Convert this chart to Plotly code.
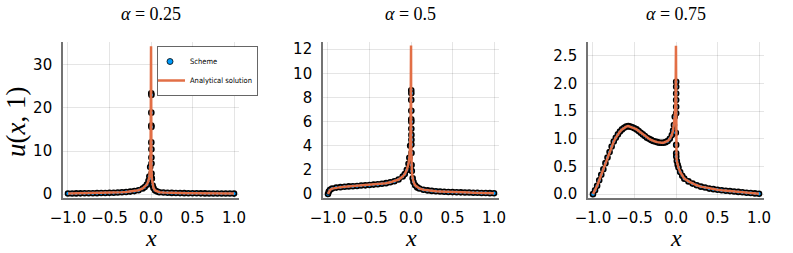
import plotly.graph_objects as go

# ---------------- data ----------------
alpha_labels = ["0.25", "0.5", "0.75"]

# alpha = 0.25
x_exact_1 = [-1.0, -0.95, -0.9, -0.85, -0.8, -0.75, -0.7, -0.65, -0.6, -0.55, -0.5,
             -0.45, -0.4, -0.35, -0.3, -0.25, -0.2, -0.15, -0.1, -0.075, -0.05, -0.03,
             -0.02, -0.01, -0.005, -0.002, -0.0005,
             0.0005, 0.002, 0.005, 0.01, 0.02, 0.03, 0.05, 0.075, 0.1, 0.15, 0.2, 0.25,
             0.3, 0.35, 0.4, 0.45, 0.5, 0.55, 0.6, 0.65, 0.7, 0.75, 0.8, 0.85, 0.9, 0.95, 1.0]
u_exact_1 = [0.15, 0.16, 0.17, 0.18, 0.19, 0.2, 0.21, 0.23, 0.25, 0.27, 0.3,
             0.33, 0.37, 0.42, 0.49, 0.58, 0.7, 0.9, 1.3, 1.65, 2.2, 3.1,
             4.1, 6.3, 10.0, 20.0, 34.3,
             34.3, 14.0, 6.0, 3.6, 2.0, 1.4, 0.85, 0.6, 0.45, 0.36, 0.31, 0.28,
             0.26, 0.24, 0.22, 0.21, 0.2, 0.19, 0.18, 0.17, 0.16, 0.15, 0.14, 0.14, 0.13, 0.13, 0.12]
x_spike_1 = [0.003, 0.005, 0.004, 0.004, 0.005, 0.004, 0.005, 0.005, 0.006, 0.006, 0.007]
u_spike_1 = [23.4, 23.0, 18.9, 15.9, 15.6, 12.0, 10.4, 8.5, 7.1, 4.8, 3.6]

# alpha = 0.5
x_exact_2 = [-1.0, -0.99, -0.975, -0.95, -0.9, -0.85, -0.8, -0.75, -0.7, -0.65, -0.6, -0.55,
             -0.5, -0.45, -0.4, -0.35, -0.3, -0.25, -0.2, -0.15, -0.1, -0.075, -0.05, -0.03,
             -0.02, -0.01, -0.005, -0.002, -0.0005,
             0.0005, 0.002, 0.005, 0.01, 0.02, 0.03, 0.05, 0.075, 0.1, 0.15, 0.2, 0.25,
             0.3, 0.35, 0.4, 0.45, 0.5, 0.55, 0.6, 0.65, 0.7, 0.75, 0.8, 0.85, 0.9, 0.95, 1.0]
u_exact_2 = [0.0, 0.2, 0.35, 0.45, 0.53, 0.57, 0.6, 0.63, 0.65, 0.67, 0.7, 0.72,
             0.75, 0.78, 0.81, 0.85, 0.9, 0.97, 1.06, 1.2, 1.45, 1.65, 2.0, 2.5,
             3.0, 4.0, 5.5, 8.0, 12.3,
             12.3, 4.0, 2.6, 1.9, 1.3, 1.0, 0.72, 0.55, 0.46, 0.36, 0.3, 0.26,
             0.23, 0.21, 0.19, 0.17, 0.16, 0.15, 0.14, 0.13, 0.12, 0.11, 0.1, 0.09, 0.08, 0.07, 0.06]
x_spike_2 = [0.003, 0.004, 0.003, 0.004, 0.003, 0.004, 0.004, 0.005, 0.005, 0.005, 0.006, 0.007]
u_spike_2 = [8.6, 8.35, 7.8, 6.9, 6.2, 6.0, 5.4, 4.9, 4.5, 4.1, 3.4, 2.4]

# alpha = 0.75
x_exact_3 = [-1.0, -0.975, -0.95, -0.925, -0.9, -0.875, -0.85, -0.825, -0.8, -0.775, -0.75,
             -0.725, -0.7, -0.675, -0.65, -0.625, -0.6, -0.575, -0.55, -0.525, -0.5, -0.475,
             -0.45, -0.425, -0.4, -0.375, -0.35, -0.325, -0.3, -0.275, -0.25, -0.225, -0.2,
             -0.175, -0.15, -0.125, -0.1, -0.075, -0.05, -0.035, -0.025, -0.015, -0.008,
             -0.004, -0.0005,
             0.0005, 0.003, 0.006, 0.01, 0.02, 0.03, 0.05, 0.075, 0.1, 0.15, 0.2, 0.25, 0.3,
             0.35, 0.4, 0.45, 0.5, 0.55, 0.6, 0.65, 0.7, 0.75, 0.8, 0.85, 0.9, 0.95, 1.0]
u_exact_3 = [0.0, 0.07, 0.15, 0.25, 0.35, 0.45, 0.56, 0.66, 0.76, 0.86, 0.95,
             1.02, 1.08, 1.13, 1.17, 1.2, 1.22, 1.23, 1.22, 1.21, 1.19, 1.17,
             1.14, 1.11, 1.08, 1.05, 1.02, 1.0, 0.98, 0.96, 0.95, 0.94, 0.93,
             0.93, 0.93, 0.94, 0.96, 1.0, 1.07, 1.15, 1.25, 1.4, 1.6,
             1.85, 2.68,
             0.86, 0.72, 0.65, 0.6, 0.53, 0.48, 0.4, 0.33, 0.28, 0.23, 0.19, 0.16, 0.135,
             0.12, 0.1, 0.09, 0.08, 0.07, 0.062, 0.055, 0.048, 0.04, 0.033, 0.026, 0.02, 0.013, 0.006]
x_spike_3 = [0.002, 0.002, 0.002, 0.002, 0.002, 0.002, -0.002, 0.002, 0.002, 0.003]
u_spike_3 = [2.03, 1.94, 1.82, 1.70, 1.58, 1.46, 1.11, 0.89, 0.74, 0.68]

x_ticks = [-1.0, -0.5, 0.0, 0.5, 1.0]
y_ticks_1 = [0, 10, 20, 30]
y_ticks_2 = [0, 2, 4, 6, 8, 10, 12]
y_ticks_3 = [0.0, 0.5, 1.0, 1.5, 2.0, 2.5]
y_ranges = [[-0.9, 35.3], [-0.33, 12.6], [-0.07, 2.75]]

panels = [
    (x_exact_1, u_exact_1, x_spike_1, u_spike_1, y_ticks_1),
    (x_exact_2, u_exact_2, x_spike_2, u_spike_2, y_ticks_2),
    (x_exact_3, u_exact_3, x_spike_3, u_spike_3, y_ticks_3),
]

# ---------------- figure ----------------
W, H = 793, 253
BLUE = "#009AFA"
ORANGE = "#E26F46"
x_domains = [(63, 239), (323, 499), (588, 764)]
y_dom = [1 - 198 / H, 1 - 42 / H]
TICKFONT = dict(family="DejaVu Sans", size=15, color="black")

fig = go.Figure()
for i, (xe, ue, xs, us, yt) in enumerate(panels):
    k = "" if i == 0 else str(i + 1)
    xs_all = [x for x, u in zip(xe, ue) if abs(x) >= 0.01] + xs
    us_all = [u for x, u in zip(xe, ue) if abs(x) >= 0.01] + us
    fig.add_trace(go.Scatter(
        x=xs_all, y=us_all, mode="markers", xaxis="x" + k, yaxis="y" + k,
        marker=dict(color=BLUE, size=5, line=dict(color="black", width=1.6)),
        showlegend=False, name="Scheme"))
    fig.add_trace(go.Scatter(
        x=xe, y=ue, mode="lines", xaxis="x" + k, yaxis="y" + k,
        line=dict(color=ORANGE, width=2.5),
        showlegend=(i == 0), name="Analytical solution", legendrank=2))
    if i == 0:
        fig.add_trace(go.Scatter(
            x=[None], y=[None], mode="markers", xaxis="x", yaxis="y",
            marker=dict(color=BLUE, size=6, line=dict(color="black", width=0.8)),
            showlegend=True, name="Scheme", legendrank=1))

    ax = dict(
        domain=[x_domains[i][0] / W, x_domains[i][1] / W], anchor="y" + k,
        range=[-1.06, 1.06], tickvals=x_ticks, tickformat=".1f",
        showgrid=True, gridcolor="rgba(0,0,0,0.1)", gridwidth=0.6,
        showline=True, linecolor="rgba(0,0,0,0.55)", linewidth=1.6,
        zeroline=False, ticks="", ticklabelstandoff=5, automargin=False,
        tickfont=TICKFONT)
    ay = dict(
        domain=y_dom, anchor="x" + k, range=y_ranges[i], tickvals=yt,
        tickformat=".1f" if i == 2 else "d",
        showgrid=True, gridcolor="rgba(0,0,0,0.1)", gridwidth=0.6,
        showline=True, linecolor="rgba(0,0,0,0.55)", linewidth=1.6,
        zeroline=False, ticks="", ticklabelstandoff=6, automargin=False,
        tickfont=TICKFONT)
    fig.layout["xaxis" + k] = ax
    fig.layout["yaxis" + k] = ay

    cx = (x_domains[i][0] + x_domains[i][1]) / 2 / W
    fig.add_annotation(x=cx, y=1 - 14 / H, xref="paper", yref="paper",
                       text="<i>α</i> = " + alpha_labels[i], showarrow=False,
                       font=dict(family="Liberation Serif", size=18, color="black"),
                       xanchor="center", yanchor="middle")
    fig.add_annotation(x=cx, y=1 - 238 / H, xref="paper", yref="paper",
                       text="<i>x</i>", showarrow=False,
                       font=dict(family="Liberation Serif", size=24, color="black"),
                       xanchor="center", yanchor="middle")

fig.add_annotation(x=16 / W, y=1 - 122 / H, xref="paper", yref="paper",
                   text="<i>u</i>(<i>x</i>, 1)", showarrow=False, textangle=-90,
                   font=dict(family="Liberation Serif", size=27, color="black"),
                   xanchor="center", yanchor="middle")

fig.update_layout(
    width=W, height=H, margin=dict(l=0, r=0, t=0, b=0, autoexpand=False),
    paper_bgcolor="white", plot_bgcolor="white",
    legend=dict(x=157 / W, y=1 - 46 / H, xanchor="left", yanchor="top",
                bgcolor="white", bordercolor="rgba(0,0,0,0.6)", borderwidth=1,
                font=dict(family="DejaVu Sans Condensed, DejaVu Sans", size=7.5, color="black"),
                itemwidth=30, tracegroupgap=0, traceorder="normal", indentation=-8),
)

fig.write_html("out.html", config={"displayModeBar": False},
               post_script="document.body.style.margin='0px';")
